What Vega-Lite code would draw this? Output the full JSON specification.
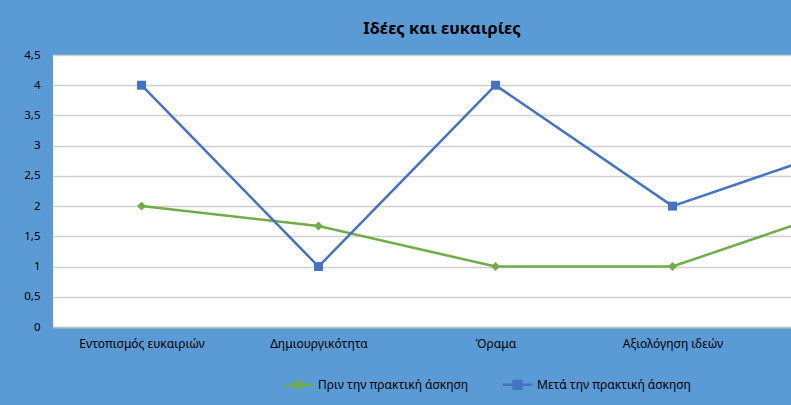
{
  "$schema": "https://vega.github.io/schema/vega-lite/v6.json",
  "autosize": "none",
  "width": 738,
  "height": 272,
  "padding": {"left": 53, "top": 55, "right": 0, "bottom": 78},
  "background": "#5B9BD5",
  "config": {
    "view": {"fill": "white", "stroke": null},
    "font": "Noto Sans"
  },
  "title": {
    "text": "Ιδέες και ευκαιρίες",
    "anchor": "middle",
    "dx": 20,
    "offset": 12,
    "fontSize": 16.5,
    "fontWeight": "bold",
    "color": "#000000",
    "font": "Noto Sans"
  },
  "data": {
    "values": [
      {"cat": "Εντοπισμός  ευκαιριών", "series": "Πριν την πρακτική άσκηση", "value": 2},
      {"cat": "Δημιουργικότητα", "series": "Πριν την πρακτική άσκηση", "value": 1.67},
      {"cat": "Όραμα", "series": "Πριν την πρακτική άσκηση", "value": 1},
      {"cat": "Αξιολόγηση ιδεών", "series": "Πριν την πρακτική άσκηση", "value": 1},
      {"cat": "Ηθική σκέψη", "series": "Πριν την πρακτική άσκηση", "value": 2},
      {"cat": "Εντοπισμός  ευκαιριών", "series": "Μετά την πρακτική άσκηση", "value": 4},
      {"cat": "Δημιουργικότητα", "series": "Μετά την πρακτική άσκηση", "value": 1},
      {"cat": "Όραμα", "series": "Μετά την πρακτική άσκηση", "value": 4},
      {"cat": "Αξιολόγηση ιδεών", "series": "Μετά την πρακτική άσκηση", "value": 2},
      {"cat": "Ηθική σκέψη", "series": "Μετά την πρακτική άσκηση", "value": 3}
    ]
  },
  "encoding": {
    "x": {
      "field": "cat",
      "type": "nominal",
      "sort": ["Εντοπισμός  ευκαιριών", "Δημιουργικότητα", "Όραμα", "Αξιολόγηση ιδεών", "Ηθική σκέψη"],
      "scale": {"type": "point", "padding": 0.5, "range": [0, 885]},
      "axis": {
        "title": null,
        "labelAngle": 0,
        "ticks": false,
        "tickSize": 0,
        "labelPadding": 11,
        "labelFontSize": 12,
        "labelColor": "#000000",
        "domainColor": "#BFBFBF",
        "domainWidth": 1.5,
        "grid": false,
        "labelLimit": 300,
        "labelExpr": "datum.value === 'Ηθική σκέψη' ? '' : datum.label"
      }
    },
    "y": {
      "field": "value",
      "type": "quantitative",
      "scale": {"domain": [0, 4.5], "nice": false, "zero": true},
      "axis": {
        "title": null,
        "values": [0, 0.5, 1, 1.5, 2, 2.5, 3, 3.5, 4, 4.5],
        "labelExpr": "replace(format(datum.value, '~g'), '.', ',')",
        "domain": false,
        "ticks": false,
        "tickSize": 0,
        "labelPadding": 13,
        "labelFontSize": 11.5,
        "labelColor": "#000000",
        "gridColor": "#D0D0D0",
        "gridWidth": 1.5
      }
    },
    "color": {
      "field": "series",
      "type": "nominal",
      "sort": ["Πριν την πρακτική άσκηση", "Μετά την πρακτική άσκηση"],
      "scale": {
        "domain": ["Πριν την πρακτική άσκηση", "Μετά την πρακτική άσκηση"],
        "range": ["#70AD47", "#4472C4"]
      },
      "legend": {
        "title": null,
        "orient": "none",
        "direction": "horizontal",
        "legendX": 229,
        "legendY": 313,
        "symbolSize": 900,
        "labelFontSize": 12,
        "labelColor": "#000000",
        "labelOffset": 3,
        "columnPadding": 28,
        "encode": {
          "symbols": {
            "update": {
              "shape": {"signal": "datum.value === 'Πριν την πρακτική άσκηση' ? 'M-1,0H1M-0.27,0L0,-0.27L0.27,0L0,0.27Z' : 'M-1,0H1M-0.26,-0.26H0.26V0.26H-0.26Z'"},
              "fill": {"signal": "scale('color', datum.value)"},
              "stroke": {"signal": "scale('color', datum.value)"},
              "strokeWidth": {"value": 2.5},
              "fillOpacity": {"value": 1},
              "opacity": {"value": 1}
            }
          }
        }
      }
    }
  },
  "layer": [
    {
      "mark": {"type": "line", "strokeWidth": 2.5, "clip": true}
    },
    {
      "mark": {"type": "point", "filled": true, "opacity": 1, "clip": true, "size": 80},
      "encoding": {
        "shape": {
          "condition": {"test": "datum.series === 'Μετά την πρακτική άσκηση'", "value": "square"},
          "value": "diamond"
        }
      }
    }
  ]
}
